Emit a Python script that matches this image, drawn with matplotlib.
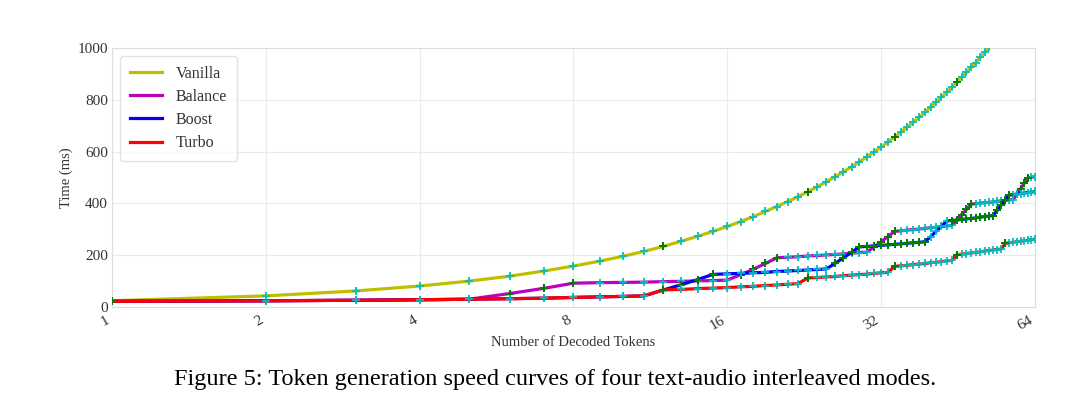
import numpy as np
import matplotlib
matplotlib.use("Agg")
from matplotlib import pyplot as plt

# decoded token index (log2 x axis)
tokens = list(range(1, 65))
tick_values = [1, 2, 4, 8, 16, 32, 64]
tick_labels = ["1", "2", "4", "8", "16", "32", "64"]

# time (ms), one value per decoded token
vanilla = [24, 43, 62, 81, 100, 119, 139, 158, 177, 196,
           215, 234, 254, 273, 292, 311, 330, 349, 369, 388,
           407, 426, 445, 464, 484, 503, 522, 541, 560, 580,
           599, 618, 637, 656, 676, 695, 714, 733, 752, 772,
           791, 810, 829, 848, 868, 887, 906, 925, 944, 964,
           983, 1002, 1021]
balance = [22, 24, 26, 28, 30, 52, 72, 92, 94, 95,
           96, 98, 99, 101, 102, 104, 125, 146, 168, 190,
           192, 194, 197, 199, 201, 203, 205, 208, 210, 212,
           232, 252, 272, 292, 294, 297, 299, 301, 304, 306,
           308, 311, 313, 315, 336, 357, 377, 397, 399, 401,
           403, 404, 406, 408, 410, 411, 413, 415, 436, 457,
           478, 499, 501, 503]
boost = [22, 24, 26, 28, 30, 32, 34, 37, 39, 41,
         43, 66, 86, 106, 126, 128, 130, 132, 134, 137,
         139, 141, 143, 145, 147, 168, 190, 211, 232, 234,
         236, 238, 240, 242, 244, 246, 248, 250, 252, 272,
         292, 312, 332, 334, 336, 338, 340, 342, 344, 347,
         349, 351, 353, 373, 393, 413, 432, 434, 436, 438,
         440, 442, 444, 446]
turbo = [22, 24, 26, 28, 30, 32, 34, 37, 39, 41,
         43, 66, 68, 71, 73, 75, 78, 80, 83, 85,
         88, 90, 112, 114, 116, 118, 121, 123, 125, 127,
         130, 132, 134, 157, 159, 161, 164, 166, 168, 171,
         173, 175, 178, 180, 202, 204, 206, 209, 211, 213,
         216, 218, 220, 222, 224, 246, 248, 250, 252, 254,
         256, 258, 260, 262]

# tokens drawn with a dark green marker (the rest are cyan)
vanilla_green = [1, 12, 23, 34, 45]
balance_green = [1, 6, 7, 8, 17, 18, 19, 20, 31, 32, 33, 34,
                 45, 46, 47, 48, 59, 60, 61, 62]
boost_green = [1, 12, 13, 14, 15] + list(range(26, 40)) + list(range(44, 58))
turbo_green = [1, 12, 23, 34, 45, 56]

series = [
    ("Vanilla", vanilla, vanilla_green, "y"),
    ("Balance", balance, balance_green, "m"),
    ("Boost", boost, boost_green, "b"),
    ("Turbo", turbo, turbo_green, "r"),
]

plt.rcParams["font.family"] = ["Liberation Serif", "DejaVu Serif"]

fig = plt.figure(figsize=(10.8, 4.19), dpi=100)
ax = fig.add_axes([0.1037, 0.2673, 0.8546, 0.6181])

for i, (name, values, green, color) in enumerate(series):
    x = np.array(tokens[:len(values)])
    y = np.array(values)
    ax.plot(x, y, color=color, lw=2.3, label=name, zorder=3 + 2 * i)
    is_green = np.isin(x, green)
    ax.plot(x[~is_green], y[~is_green], ls="none", marker="P", ms=5.5,
            color="c", mew=0, alpha=0.9, zorder=4 + 2 * i)
    ax.plot(x[is_green], y[is_green], ls="none", marker="P", ms=5.5,
            color="g", mew=0, zorder=4 + 2 * i)

ax.set_xscale("log", base=2)
ax.set_xlim(1, 64)
ax.set_ylim(0, 1000)
ax.set_xticks(tick_values)
ax.set_xticklabels(tick_labels, rotation=30, ha="right")
ax.minorticks_off()
ax.set_yticks([0, 200, 400, 600, 800, 1000])
ax.tick_params(length=0, labelsize=11, colors="#333333")
ax.tick_params(axis="y", pad=3)
ax.tick_params(axis="x", pad=5)
ax.grid(True, color="#ebebeb", lw=0.8)
ax.set_axisbelow(True)
for s in ax.spines.values():
    s.set_color("#dddddd")

ax.set_xlabel("Number of Decoded Tokens", fontsize=10.5, color="#333333",
              labelpad=2)
ax.set_ylabel("Time (ms)", fontsize=10.5, color="#333333", labelpad=3)

leg = ax.legend(loc="upper left", fontsize=11.5, frameon=True,
                borderpad=0.6, labelspacing=0.45, handletextpad=0.9)
leg.get_frame().set_edgecolor("#dddddd")
for t in leg.get_texts():
    t.set_color("#333333")

fig.text(555 / 1080, 1 - 379 / 419,
         "Figure 5: Token generation speed curves of four text-audio interleaved modes.",
         ha="center", va="center", fontsize=17.5)

fig.savefig("out.png", dpi=100)
